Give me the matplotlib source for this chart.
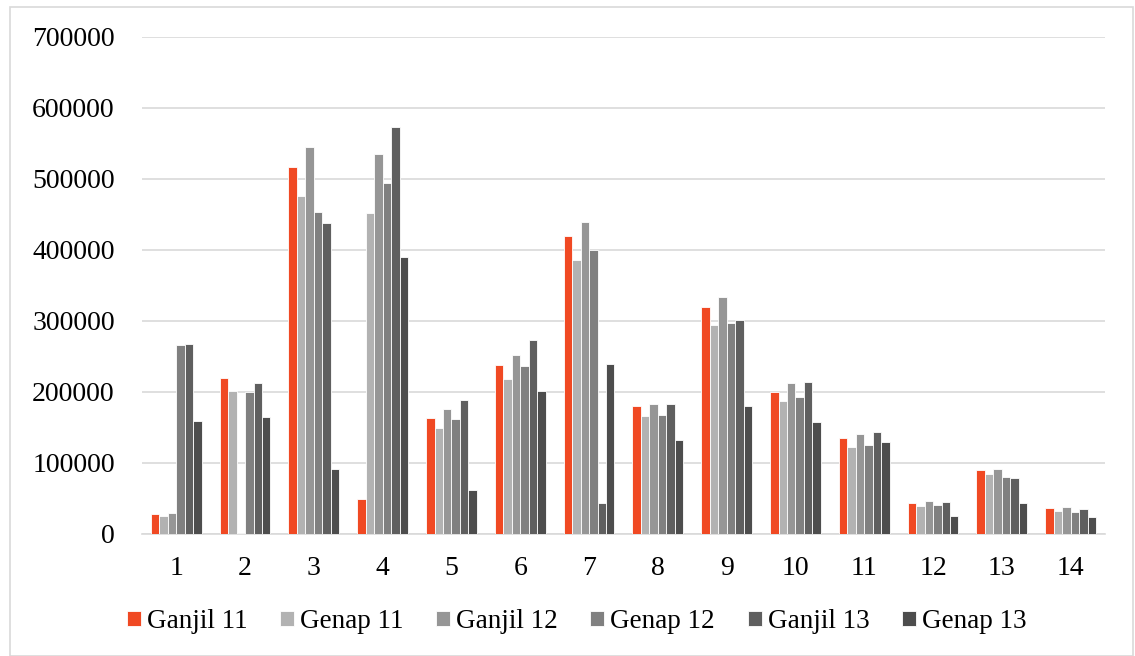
#!/usr/bin/env python3

import numpy as np
import matplotlib
matplotlib.use('Agg')
import matplotlib.pyplot as plt
from matplotlib.patches import Rectangle

# Data
groups = ['1', '2', '3', '4', '5', '6', '7', '8', '9', '10', '11', '12', '13', '14']
series = ['Ganjil 11', 'Genap 11', 'Ganjil 12', 'Genap 12', 'Ganjil 13', 'Genap 13']

ganjil_11 = [28000, 219700, 517400, 49700, 163400, 238500, 419700, 180700, 319700, 199500, 135200, 43200, 90600, 36600]
genap_11 = [25800, 201400, 476000, 452100, 149800, 218300, 386400, 166200, 294800, 186900, 123000, 39400, 85000, 32400]
ganjil_12 = [29500, 1500, 545000, 535200, 176100, 252100, 439000, 183600, 333800, 212700, 140900, 46000, 91600, 38500]
genap_12 = [266000, 199500, 454000, 494900, 162000, 237100, 400500, 167200, 297200, 192500, 125400, 41300, 80300, 30500]
ganjil_13 = [267000, 212600, 437600, 573300, 188300, 273300, 44100, 183600, 301400, 214500, 143200, 45100, 79300, 34800]
genap_13 = [158700, 165200, 91100, 389700, 62400, 201400, 239400, 132400, 179800, 157300, 129100, 24900, 44100, 23500]

colors = ['#F04923', '#B2B2B2', '#969696', '#808080', '#5F5F5F', '#4D4D4D']

values = [ganjil_11, genap_11, ganjil_12, genap_12, ganjil_13, genap_13]

plt.rcParams['font.family'] = ['Liberation Serif', 'DejaVu Serif']

fig = plt.figure(figsize=(11.35, 6.56), dpi=100)
ax = fig.add_axes([0.125, 0.186, 0.8486, 0.7576])

x = np.arange(len(groups))
w = 0.123
for i, (name, vals) in enumerate(zip(series, values)):
    ax.bar(x + (i - 2.5) * w, vals, width=w, color=colors[i],
           edgecolor='white', linewidth=0.6, label=name, zorder=3)

ax.set_xlim(-0.5, len(groups) - 0.5)
ax.set_ylim(0, 700000)
ax.set_yticks(np.arange(0, 700001, 100000))
ax.set_yticklabels([str(v) for v in range(0, 700001, 100000)])
ax.set_xticks(x)
ax.set_xticklabels(groups)

ax.grid(axis='y', color='#D9D9D9', lw=1.2, zorder=0)
for s in ['top', 'right', 'left']:
    ax.spines[s].set_visible(False)
ax.spines['bottom'].set_color('#D9D9D9')
ax.spines['bottom'].set_linewidth(1.2)
ax.tick_params(axis='both', length=0, labelsize=20, colors='black')
ax.tick_params(axis='y', pad=19.5)
ax.tick_params(axis='x', pad=16)

leg = fig.legend(loc='center', bbox_to_anchor=(0.508, 0.052), ncol=6, frameon=False,
                 handlelength=0.52, handleheight=0.48, handletextpad=0.22,
                 columnspacing=1.2, prop={'size': 19.5})

# chart border
fig.patches.append(Rectangle((0.009, 0.0), 0.989, 0.989, transform=fig.transFigure,
                             fill=False, edgecolor='#D9D9D9', lw=1.2))

plt.savefig('out.png', dpi=100)
